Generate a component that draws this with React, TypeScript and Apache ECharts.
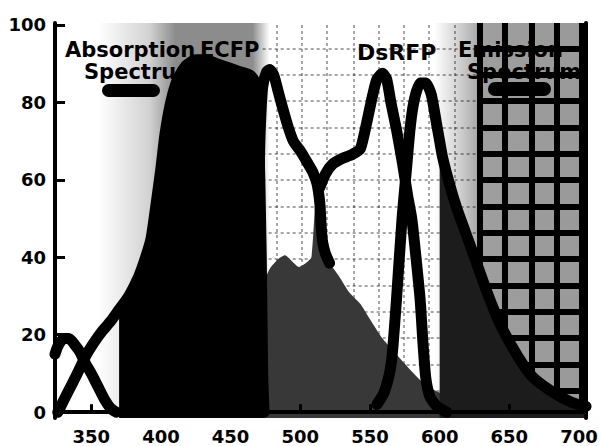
import React, { useEffect, useRef } from "react";
import * as echarts from "echarts";

// Wavelength (nm) / relative intensity (%)
const ecfpAbsWl = [326, 333, 340, 346, 352, 358, 364, 370, 377, 384, 389, 393, 397, 400, 403, 407, 412, 418, 425, 432, 440, 448, 456, 464, 468, 470, 472, 473, 474];
const ecfpAbsVal = [0, 5, 10, 14.5, 18, 21, 23.5, 26.5, 30, 35, 40, 45, 55, 63, 72, 80, 86, 89.5, 91, 91, 90, 89, 88, 87, 85, 75, 40, 10, 0];

const ecfpEmWl = [466, 469, 471, 473, 476, 478, 481, 484, 487, 491, 495, 500, 505, 509, 512, 514, 515, 516, 518, 521, 528, 535, 543, 550, 559, 570, 580, 590, 600, 615, 630, 650];
const ecfpEmVal = [10, 40, 70, 84, 88, 88.5, 87, 83, 79, 74, 70, 67.5, 64.5, 62, 59, 54, 48, 44, 41, 38.5, 35, 31, 28, 24, 19, 14.5, 10.5, 7, 5, 2.5, 1, 0];

const dsAbsWl = [324, 326, 330, 334, 338, 342, 346, 350, 355, 360, 364, 368, 400, 430, 450, 465, 472, 478, 484, 489, 494, 499, 504, 508, 511, 514, 518, 523, 530, 537, 543, 546, 549, 552, 555, 559, 562, 565, 569, 573, 577, 580, 583, 586, 588, 590, 593, 598, 605];
const dsAbsVal = [15, 17, 19, 19, 17.5, 15.5, 12.5, 10, 6.5, 3, 1, 0, 1, 4, 10, 22, 32, 37, 39.5, 40.5, 39, 37.5, 38.5, 40, 44, 58, 61.5, 64, 65.5, 66.5, 68, 72, 77, 82, 86, 87.5, 86, 80, 73, 65, 56, 50, 40, 29, 18, 9, 4, 1.5, 0];

const dsEmWl = [555, 560, 564, 566, 569, 573, 576, 579, 582, 586, 590, 594, 598, 600, 602, 607, 612, 617, 622, 628, 634, 643, 656, 667, 682, 695, 705];
const dsEmVal = [2, 5, 10, 15, 29, 50, 62, 74, 81, 85, 85, 82, 74, 70, 66, 59, 53, 48, 43, 37, 31, 23, 14.5, 9, 5, 2.5, 1.5];

const xTicks = [350, 400, 450, 500, 550, 600, 650, 700];
const yTicks = [0, 20, 40, 60, 80, 100];

// background grid of the original photo
const gridWl = [483, 501, 519, 538, 556, 574, 592, 611, 629, 647, 666, 684, 702];
const gridVal = [5.5, 12.3, 19.1, 25.9, 32.7, 39.5, 46.3, 53.1, 59.9, 66.7, 73.5, 80.3, 87.1, 93.9];

const X_MIN = 324;
const X_MAX = 705;
const Y_MIN = -1.5;
const Y_MAX = 100.5;

const pairs = (wl: number[], v: number[]) => wl.map((w, i) => [w, v[i]] as any[]);

export default function App() {
  const ref = useRef<HTMLDivElement>(null);
  useEffect(() => {
    const chart = echarts.init(ref.current!, null, { renderer: "svg" });
    const font = "DejaVu Sans";
    const ecfpAbs = pairs(ecfpAbsWl, ecfpAbsVal);
    const ecfpEm = pairs(ecfpEmWl, ecfpEmVal);
    const dsAbs = pairs(dsAbsWl, dsAbsVal);
    const dsEm = pairs(dsEmWl, dsEmVal);

    const overlapFill = [
      ...dsAbs.filter((p) => p[0] >= 472 && p[0] <= 508),
      ...ecfpEm.filter((p) => p[0] >= 512),
    ];
    const emFill = dsEm.filter((p) => p[0] >= 600);
    const absFill = ecfpAbs.filter((p) => p[0] >= 368);
    const dsAbsLine = [
      ...dsAbs.filter((p) => p[0] <= 368),
      [440, "-"],
      ...dsAbs.filter((p) => p[0] >= 514),
    ];
    const ecfpEmLine = ecfpEm.filter((p) => p[0] <= 526);

    const faintWl = gridWl.filter((w) => w < 620);
    const bandWl = gridWl.filter((w) => w >= 620);
    const bandStart = bandWl[0];

    const lineBase = {
      type: "line",
      showSymbol: false,
      symbol: "none",
      silent: true,
      smooth: 0.2,
    };
    const thick = { color: "#000", width: 11, cap: "round", join: "round" };

    const option: any = {
      animation: false,
      grid: { left: 55, right: 16, top: 23, bottom: 28, show: true, backgroundColor: "#fff", borderWidth: 0 },
      xAxis: [
        {
          type: "value",
          min: X_MIN,
          max: X_MAX,
          position: "bottom",
          z: 20,
          axisLine: { show: true, lineStyle: { color: "#000", width: 4 } },
          axisTick: { show: true, inside: true, length: 8, customValues: xTicks, lineStyle: { color: "#000", width: 3 } },
          axisLabel: { customValues: xTicks, color: "#000", fontFamily: font, fontWeight: "bold", fontSize: 18, margin: 9 },
          splitLine: { show: false },
        },
        {
          type: "value",
          min: X_MIN,
          max: X_MAX,
          position: "top",
          z: 20,
          axisLine: { show: true, lineStyle: { color: "#000", width: 4 } },
          axisTick: { show: false },
          axisLabel: { show: false },
          splitLine: { show: false },
        },
      ],
      yAxis: [
        {
          type: "value",
          min: Y_MIN,
          max: Y_MAX,
          position: "left",
          z: 20,
          axisLine: { show: true, lineStyle: { color: "#000", width: 4 } },
          axisTick: { show: true, inside: true, length: 10, customValues: yTicks, lineStyle: { color: "#000", width: 3 } },
          axisLabel: { customValues: yTicks, color: "#000", fontFamily: font, fontWeight: "bold", fontSize: 18, margin: 9 },
          splitLine: { show: false },
        },
        {
          type: "value",
          min: Y_MIN,
          max: Y_MAX,
          position: "right",
          z: 20,
          axisLine: { show: true, lineStyle: { color: "#000", width: 4 } },
          axisTick: { show: false },
          axisLabel: { show: false },
          splitLine: { show: false },
        },
      ],
      series: [
        {
          ...lineBase,
          name: "bg",
          z: 1,
          data: dsEm,
          lineStyle: { width: 0, opacity: 0 },
          markArea: {
            silent: true,
            z: 1,
            data: [
              [
                {
                  xAxis: 355,
                  itemStyle: {
                    color: new echarts.graphic.LinearGradient(0, 0, 1, 0, [
                      { offset: 0, color: "rgba(0,0,0,0)" },
                      { offset: 0.3, color: "rgba(0,0,0,0.18)" },
                      { offset: 0.45, color: "rgba(0,0,0,0.45)" },
                      { offset: 0.9, color: "rgba(0,0,0,0.45)" },
                      { offset: 1, color: "rgba(0,0,0,0)" },
                    ]),
                  },
                },
                { xAxis: 478 },
              ],
              [
                {
                  xAxis: 596,
                  itemStyle: {
                    color: new echarts.graphic.LinearGradient(0, 0, 1, 0, [
                      { offset: 0, color: "rgba(0,0,0,0)" },
                      { offset: 0.18, color: "rgba(0,0,0,0.2)" },
                      { offset: 0.32, color: "rgba(0,0,0,0.38)" },
                      { offset: 1, color: "rgba(0,0,0,0.4)" },
                    ]),
                  },
                },
                { xAxis: X_MAX },
              ],
            ],
          },
        },
        {
          ...lineBase,
          name: "gridFaint",
          z: 1,
          data: dsEm,
          lineStyle: { width: 0, opacity: 0 },
          markLine: {
            silent: true,
            z: 2,
            symbol: "none",
            label: { show: false },
            lineStyle: { color: "rgba(0,0,0,0.35)", width: 2, type: [3, 3] },
            data: [
              ...faintWl.map((w) => ({ xAxis: w })),
              ...gridVal.map((v) => [{ coord: [473, v] }, { coord: [bandStart, v] }]),
            ],
          },
        },
        {
          ...lineBase,
          name: "gridBand",
          z: 1,
          data: dsEm,
          lineStyle: { width: 0, opacity: 0 },
          markLine: {
            silent: true,
            z: 2,
            symbol: "none",
            label: { show: false },
            lineStyle: { color: "#000", width: 6, type: "solid" },
            data: [
              ...bandWl.map((w) => ({ xAxis: w })),
              ...gridVal.map((v) => [{ coord: [bandStart, v] }, { coord: [X_MAX, v] }]),
            ],
          },
        },
        {
          ...lineBase,
          name: "overlapFill",
          z: 3,
          data: overlapFill,
          lineStyle: { width: 0 },
          areaStyle: { color: "#383838", opacity: 1, origin: "start" },
        },
        {
          ...lineBase,
          name: "emissionFill",
          z: 3,
          data: emFill,
          lineStyle: { width: 0 },
          areaStyle: { color: "#1c1c1c", opacity: 1, origin: "start" },
        },
        {
          ...lineBase,
          name: "ECFP absorption fill",
          z: 3,
          data: absFill,
          lineStyle: { width: 0 },
          areaStyle: { color: "#000", opacity: 1, origin: "start" },
        },
        { ...lineBase, z: 4, name: "ECFP absorption", data: ecfpAbs, lineStyle: thick },
        { ...lineBase, z: 4, name: "ECFP emission", data: ecfpEmLine, lineStyle: thick },
        { ...lineBase, z: 4, name: "DsRFP absorption", data: dsAbsLine, connectNulls: false, lineStyle: thick },
        { ...lineBase, z: 4, name: "DsRFP emission", data: dsEm, lineStyle: thick },
      ],
      graphic: [
        { type: "text", left: 65, top: 39, z: 100, style: { text: "Absorption", fontSize: 21, fontWeight: "bold", fontFamily: font, fill: "#000" } },
        { type: "text", left: 84, top: 61, z: 100, style: { text: "Spectrum", fontSize: 21, fontWeight: "bold", fontFamily: font, fill: "#000" } },
        { type: "text", left: 200, top: 39, z: 100, style: { text: "ECFP", fontSize: 21, fontWeight: "bold", fontFamily: font, fill: "#000" } },
        { type: "text", left: 357, top: 41, z: 100, style: { text: "DsRFP", fontSize: 22, fontWeight: "bold", fontFamily: font, fill: "#000" } },
        { type: "text", left: 458, top: 39, z: 100, style: { text: "Emission", fontSize: 21, fontWeight: "bold", fontFamily: font, fill: "#000" } },
        { type: "text", left: 467, top: 61, z: 100, style: { text: "Spectrum", fontSize: 21, fontWeight: "bold", fontFamily: font, fill: "#000" } },
        { type: "rect", z: 100, shape: { x: 102, y: 84, width: 58, height: 13, r: 6.5 }, style: { fill: "#000" } },
        { type: "rect", z: 100, shape: { x: 488, y: 82, width: 63, height: 14, r: 7 }, style: { fill: "#000" } },
      ],
    };
    chart.setOption(option);
    return () => chart.dispose();
  }, []);
  return <div ref={ref} style={{ position: "absolute", left: 0, top: 0, width: 602, height: 446 }} />;
}
